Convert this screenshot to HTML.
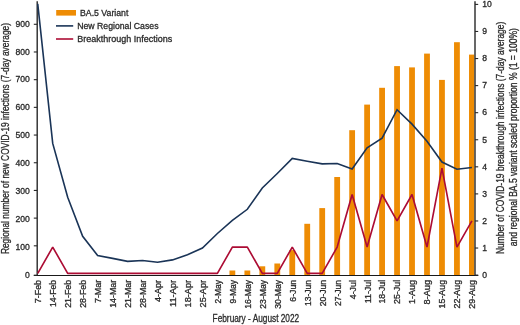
<!DOCTYPE html><html><head><meta charset="utf-8"><style>html,body{margin:0;padding:0;background:#fff;overflow:hidden;width:520px;height:325px;}svg{display:block;filter:blur(0.35px);}text{font-family:"Liberation Sans",sans-serif;fill:#2a2a2a;stroke:#2a2a2a;stroke-width:0.3px;}</style></head><body>
<svg width="520" height="325" viewBox="0 0 520 325">
<rect width="520" height="325" fill="#fff"/>
<rect x="229.47" y="270.50" width="5.80" height="4.70" fill="#EE8C04"/>
<rect x="244.44" y="270.50" width="5.80" height="4.70" fill="#EE8C04"/>
<rect x="259.42" y="266.30" width="5.80" height="8.90" fill="#EE8C04"/>
<rect x="274.39" y="263.50" width="5.80" height="11.70" fill="#EE8C04"/>
<rect x="289.36" y="250.10" width="5.80" height="25.10" fill="#EE8C04"/>
<rect x="304.33" y="223.80" width="5.80" height="51.40" fill="#EE8C04"/>
<rect x="319.30" y="208.10" width="5.80" height="67.10" fill="#EE8C04"/>
<rect x="334.27" y="177.00" width="5.80" height="98.20" fill="#EE8C04"/>
<rect x="349.24" y="130.20" width="5.80" height="145.00" fill="#EE8C04"/>
<rect x="364.21" y="104.60" width="5.80" height="170.60" fill="#EE8C04"/>
<rect x="379.18" y="87.80" width="5.80" height="187.40" fill="#EE8C04"/>
<rect x="394.15" y="66.10" width="5.80" height="209.10" fill="#EE8C04"/>
<rect x="409.12" y="67.40" width="5.80" height="207.80" fill="#EE8C04"/>
<rect x="424.10" y="53.60" width="5.80" height="221.60" fill="#EE8C04"/>
<rect x="439.07" y="79.90" width="5.80" height="195.30" fill="#EE8C04"/>
<rect x="454.04" y="42.20" width="5.80" height="233.00" fill="#EE8C04"/>
<rect x="469.01" y="54.60" width="5.29" height="220.60" fill="#EE8C04"/>
<line x1="37.2" y1="1.3" x2="37.2" y2="275.8" stroke="#282828" stroke-width="1.4"/>
<line x1="475" y1="1.3" x2="475" y2="275.8" stroke="#282828" stroke-width="1.4"/>
<line x1="33.8" y1="275.5" x2="478.3" y2="275.5" stroke="#1a1a1a" stroke-width="1.1"/>
<line x1="33.8" y1="275.20" x2="37.2" y2="275.20" stroke="#282828" stroke-width="1.1"/>
<text x="29.8" y="277.90" font-size="8.6" text-anchor="end">0</text>
<line x1="33.8" y1="245.81" x2="37.2" y2="245.81" stroke="#282828" stroke-width="1.1"/>
<text x="29.8" y="249.98" font-size="8.6" text-anchor="end">100</text>
<line x1="33.8" y1="218.12" x2="37.2" y2="218.12" stroke="#282828" stroke-width="1.1"/>
<text x="29.8" y="222.06" font-size="8.6" text-anchor="end">200</text>
<line x1="33.8" y1="190.43" x2="37.2" y2="190.43" stroke="#282828" stroke-width="1.1"/>
<text x="29.8" y="194.14" font-size="8.6" text-anchor="end">300</text>
<line x1="33.8" y1="162.74" x2="37.2" y2="162.74" stroke="#282828" stroke-width="1.1"/>
<text x="29.8" y="166.22" font-size="8.6" text-anchor="end">400</text>
<line x1="33.8" y1="135.05" x2="37.2" y2="135.05" stroke="#282828" stroke-width="1.1"/>
<text x="29.8" y="138.30" font-size="8.6" text-anchor="end">500</text>
<line x1="33.8" y1="107.36" x2="37.2" y2="107.36" stroke="#282828" stroke-width="1.1"/>
<text x="29.8" y="110.38" font-size="8.6" text-anchor="end">600</text>
<line x1="33.8" y1="79.67" x2="37.2" y2="79.67" stroke="#282828" stroke-width="1.1"/>
<text x="29.8" y="82.46" font-size="8.6" text-anchor="end">700</text>
<line x1="33.8" y1="51.98" x2="37.2" y2="51.98" stroke="#282828" stroke-width="1.1"/>
<text x="29.8" y="54.54" font-size="8.6" text-anchor="end">800</text>
<line x1="33.8" y1="24.29" x2="37.2" y2="24.29" stroke="#282828" stroke-width="1.1"/>
<text x="29.8" y="26.62" font-size="8.6" text-anchor="end">900</text>
<line x1="475" y1="275.10" x2="478.2" y2="275.10" stroke="#282828" stroke-width="1.1"/>
<text x="482.3" y="277.90" font-size="8.6">0</text>
<line x1="475" y1="248.03" x2="478.2" y2="248.03" stroke="#282828" stroke-width="1.1"/>
<text x="482.3" y="250.83" font-size="8.6">1</text>
<line x1="475" y1="220.96" x2="478.2" y2="220.96" stroke="#282828" stroke-width="1.1"/>
<text x="482.3" y="223.76" font-size="8.6">2</text>
<line x1="475" y1="193.89" x2="478.2" y2="193.89" stroke="#282828" stroke-width="1.1"/>
<text x="482.3" y="196.69" font-size="8.6">3</text>
<line x1="475" y1="166.82" x2="478.2" y2="166.82" stroke="#282828" stroke-width="1.1"/>
<text x="482.3" y="169.62" font-size="8.6">4</text>
<line x1="475" y1="139.75" x2="478.2" y2="139.75" stroke="#282828" stroke-width="1.1"/>
<text x="482.3" y="142.55" font-size="8.6">5</text>
<line x1="475" y1="112.68" x2="478.2" y2="112.68" stroke="#282828" stroke-width="1.1"/>
<text x="482.3" y="115.48" font-size="8.6">6</text>
<line x1="475" y1="85.61" x2="478.2" y2="85.61" stroke="#282828" stroke-width="1.1"/>
<text x="482.3" y="88.41" font-size="8.6">7</text>
<line x1="475" y1="58.54" x2="478.2" y2="58.54" stroke="#282828" stroke-width="1.1"/>
<text x="482.3" y="61.34" font-size="8.6">8</text>
<line x1="475" y1="31.47" x2="478.2" y2="31.47" stroke="#282828" stroke-width="1.1"/>
<text x="482.3" y="34.27" font-size="8.6">9</text>
<line x1="475" y1="4.40" x2="478.2" y2="4.40" stroke="#282828" stroke-width="1.1"/>
<text x="482.3" y="7.20" font-size="8.6">10</text>
<polyline points="37.75,3.80 52.72,143.40 67.69,197.20 82.66,236.30 97.63,255.60 112.61,258.40 127.58,261.40 142.55,260.50 157.52,262.30 172.49,259.90 187.46,254.70 202.43,248.00 217.40,233.50 232.37,220.30 247.34,209.30 262.31,188.00 277.29,173.50 292.26,158.40 307.23,161.20 322.20,163.90 337.17,163.50 352.14,169.00 367.11,147.80 382.08,138.20 397.05,109.70 412.02,124.10 427.00,141.20 441.97,162.00 456.94,169.20 471.91,167.50" fill="none" stroke="#1A3457" stroke-width="1.6" stroke-linejoin="miter"/>
<polyline points="37.75,273.40 52.72,247.10 67.69,273.40 82.66,273.40 97.63,273.40 112.61,273.40 127.58,273.40 142.55,273.40 157.52,273.40 172.49,273.40 187.46,273.40 202.43,273.40 217.40,273.40 232.37,247.10 247.34,247.10 262.31,273.40 277.29,273.40 292.26,247.10 307.23,273.40 322.20,273.40 337.17,247.10 352.14,194.50 367.11,247.10 382.08,194.50 397.05,220.80 412.02,194.50 427.00,247.10 441.97,168.20 456.94,247.10 471.91,220.80" fill="none" stroke="#AC0C34" stroke-width="1.65" stroke-linejoin="bevel"/>
<text transform="translate(41.15,279.9) rotate(-90)" font-size="8.8" text-anchor="end" textLength="23.42" lengthAdjust="spacingAndGlyphs">7-Feb</text>
<text transform="translate(56.12,279.9) rotate(-90)" font-size="8.8" text-anchor="end" textLength="27.18" lengthAdjust="spacingAndGlyphs">14-Feb</text>
<text transform="translate(71.09,279.9) rotate(-90)" font-size="8.8" text-anchor="end" textLength="27.98" lengthAdjust="spacingAndGlyphs">21-Feb</text>
<text transform="translate(86.06,279.9) rotate(-90)" font-size="8.8" text-anchor="end" textLength="27.98" lengthAdjust="spacingAndGlyphs">28-Feb</text>
<text transform="translate(101.03,279.9) rotate(-90)" font-size="8.8" text-anchor="end" textLength="23.11" lengthAdjust="spacingAndGlyphs">7-Mar</text>
<text transform="translate(116.01,279.9) rotate(-90)" font-size="8.8" text-anchor="end" textLength="27.98" lengthAdjust="spacingAndGlyphs">14-Mar</text>
<text transform="translate(130.98,279.9) rotate(-90)" font-size="8.8" text-anchor="end" textLength="27.98" lengthAdjust="spacingAndGlyphs">21-Mar</text>
<text transform="translate(145.95,279.9) rotate(-90)" font-size="8.8" text-anchor="end" textLength="27.98" lengthAdjust="spacingAndGlyphs">28-Mar</text>
<text transform="translate(160.92,279.9) rotate(-90)" font-size="8.8" text-anchor="end" textLength="22.06" lengthAdjust="spacingAndGlyphs">4-Apr</text>
<text transform="translate(175.89,279.9) rotate(-90)" font-size="8.8" text-anchor="end" textLength="27.17" lengthAdjust="spacingAndGlyphs">11-Apr</text>
<text transform="translate(190.86,279.9) rotate(-90)" font-size="8.8" text-anchor="end" textLength="27.51" lengthAdjust="spacingAndGlyphs">18-Apr</text>
<text transform="translate(205.83,279.9) rotate(-90)" font-size="8.8" text-anchor="end" textLength="27.51" lengthAdjust="spacingAndGlyphs">25-Apr</text>
<text transform="translate(220.80,279.9) rotate(-90)" font-size="8.8" text-anchor="end" textLength="23.68" lengthAdjust="spacingAndGlyphs">2-May</text>
<text transform="translate(235.77,279.9) rotate(-90)" font-size="8.8" text-anchor="end" textLength="23.68" lengthAdjust="spacingAndGlyphs">9-May</text>
<text transform="translate(250.74,279.9) rotate(-90)" font-size="8.8" text-anchor="end" textLength="28.84" lengthAdjust="spacingAndGlyphs">16-May</text>
<text transform="translate(265.71,279.9) rotate(-90)" font-size="8.8" text-anchor="end" textLength="28.84" lengthAdjust="spacingAndGlyphs">23-May</text>
<text transform="translate(280.69,279.9) rotate(-90)" font-size="8.8" text-anchor="end" textLength="28.84" lengthAdjust="spacingAndGlyphs">30-May</text>
<text transform="translate(295.66,279.9) rotate(-90)" font-size="8.8" text-anchor="end" textLength="21.81" lengthAdjust="spacingAndGlyphs">6-Jun</text>
<text transform="translate(310.63,279.9) rotate(-90)" font-size="8.8" text-anchor="end" textLength="26.08" lengthAdjust="spacingAndGlyphs">13-Jun</text>
<text transform="translate(325.60,279.9) rotate(-90)" font-size="8.8" text-anchor="end" textLength="26.38" lengthAdjust="spacingAndGlyphs">20-Jun</text>
<text transform="translate(340.57,279.9) rotate(-90)" font-size="8.8" text-anchor="end" textLength="26.08" lengthAdjust="spacingAndGlyphs">27-Jun</text>
<text transform="translate(355.54,279.9) rotate(-90)" font-size="8.8" text-anchor="end" textLength="19.48" lengthAdjust="spacingAndGlyphs">4-Jul</text>
<text transform="translate(370.51,279.9) rotate(-90)" font-size="8.8" text-anchor="end" textLength="23.39" lengthAdjust="spacingAndGlyphs">11-Jul</text>
<text transform="translate(385.48,279.9) rotate(-90)" font-size="8.8" text-anchor="end" textLength="23.73" lengthAdjust="spacingAndGlyphs">18-Jul</text>
<text transform="translate(400.45,279.9) rotate(-90)" font-size="8.8" text-anchor="end" textLength="24.13" lengthAdjust="spacingAndGlyphs">25-Jul</text>
<text transform="translate(415.42,279.9) rotate(-90)" font-size="8.8" text-anchor="end" textLength="24.18" lengthAdjust="spacingAndGlyphs">1-Aug</text>
<text transform="translate(430.40,279.9) rotate(-90)" font-size="8.8" text-anchor="end" textLength="24.58" lengthAdjust="spacingAndGlyphs">8-Aug</text>
<text transform="translate(445.37,279.9) rotate(-90)" font-size="8.8" text-anchor="end" textLength="28.54" lengthAdjust="spacingAndGlyphs">15-Aug</text>
<text transform="translate(460.34,279.9) rotate(-90)" font-size="8.8" text-anchor="end" textLength="28.54" lengthAdjust="spacingAndGlyphs">22-Aug</text>
<text transform="translate(475.31,279.9) rotate(-90)" font-size="8.8" text-anchor="end" textLength="28.94" lengthAdjust="spacingAndGlyphs">29-Aug</text>
<text x="212.6" y="322.1" font-size="10.6" textLength="86.6" lengthAdjust="spacingAndGlyphs">February - August 2022</text>
<text transform="translate(9.0,254.1) rotate(-90)" font-size="10.8" textLength="231.1" lengthAdjust="spacingAndGlyphs">Regional number of new COVID-19 infections (7-day average)</text>
<text transform="translate(503.8,254.0) rotate(-90)" font-size="10.4" textLength="232.3" lengthAdjust="spacingAndGlyphs">Number of COVID-19 breakthrough infections (7-day average)</text>
<text transform="translate(516.6,246.2) rotate(-90)" font-size="10.4" textLength="218.1" lengthAdjust="spacingAndGlyphs">and regional BA.5 variant scaled proportion % (1 = 100%)</text>
<rect x="56.2" y="10" width="19.8" height="5.6" fill="#EE8C04"/>
<text x="80" y="15.8" font-size="9.4" textLength="48.4" lengthAdjust="spacingAndGlyphs">BA.5 Variant</text>
<line x1="56" y1="25.9" x2="73.2" y2="25.9" stroke="#1A3457" stroke-width="1.6"/>
<text x="77.2" y="28.7" font-size="9.4" textLength="81.3" lengthAdjust="spacingAndGlyphs">New Regional Cases</text>
<line x1="56" y1="39" x2="73.2" y2="39" stroke="#AC0C34" stroke-width="1.6"/>
<text x="77.2" y="41.8" font-size="9.4" textLength="95.1" lengthAdjust="spacingAndGlyphs">Breakthrough Infections</text>
</svg></body></html>
